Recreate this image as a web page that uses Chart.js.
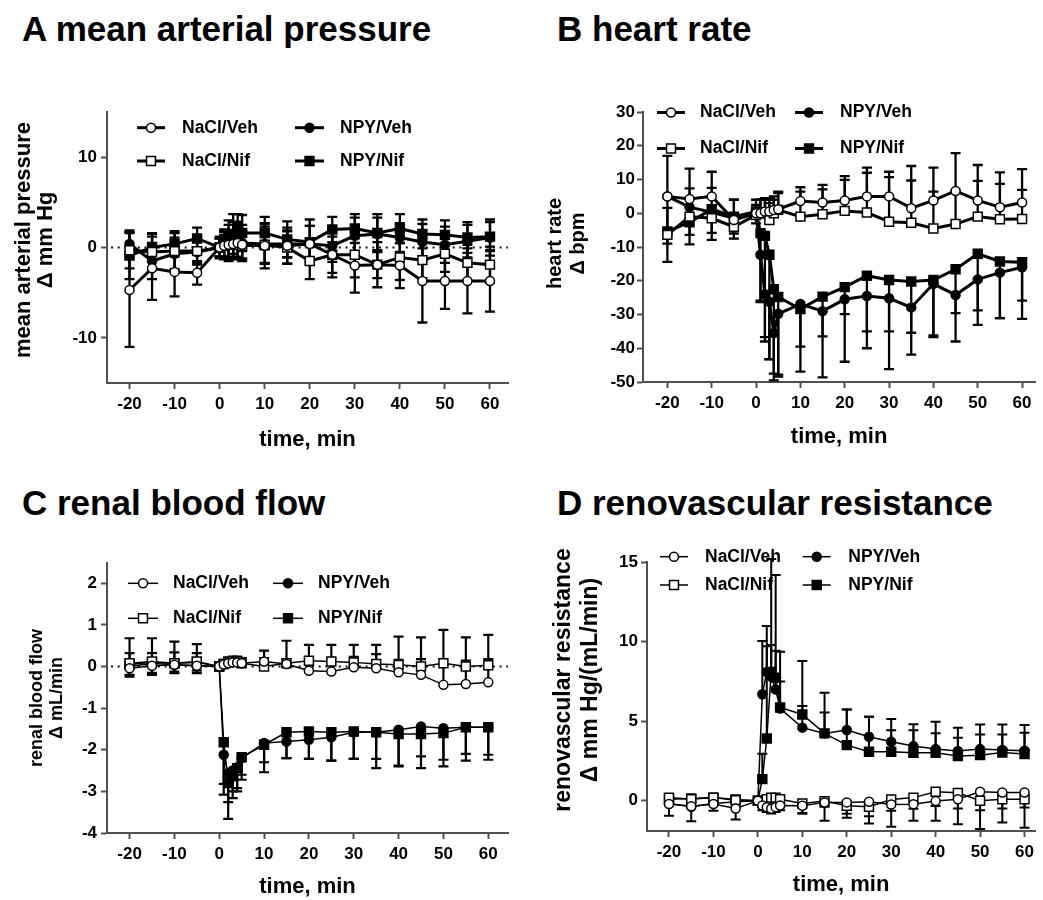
<!DOCTYPE html>
<html>
<head>
<meta charset="utf-8">
<script src="https://cdn.jsdelivr.net/npm/chart.js"></script>
<style>
  body { margin: 0; background: #fff; width: 1043px; height: 900px; position: relative; overflow: hidden; }
  .panel { position: absolute; }
  .title { position: absolute; font-family: "Liberation Sans", Arial, sans-serif; font-weight: bold;
           font-size: 35px; line-height: 35px; white-space: nowrap; color: #000; }
</style>
</head>
<body>
<div class="title" style="left:22px; top:11px;">A mean arterial pressure</div>
<div class="title" style="left:557px; top:11px;">B heart rate</div>
<div class="title" style="left:22px; top:485px;">C renal blood flow</div>
<div class="title" style="left:557px; top:485px;">D renovascular resistance</div>

<div class="panel" style="left:0; top:0;"><canvas id="chartA" width="521" height="460"></canvas></div>
<div class="panel" style="left:521px; top:0;"><canvas id="chartB" width="522" height="460"></canvas></div>
<div class="panel" style="left:0; top:460px;"><canvas id="chartC" width="521" height="440"></canvas></div>
<div class="panel" style="left:521px; top:460px;"><canvas id="chartD" width="522" height="440"></canvas></div>

<script>
// Shared time axis (min) and labels
const times = [-20, -15, -10, -5, 0, 1, 2, 3, 4, 5, 10, 15, 20, 25, 30, 35, 40, 45, 50, 55, 60];
const seriesNames = ['NaCl/Veh', 'NaCl/Nif', 'NPY/Veh', 'NPY/Nif'];
const xTickValues = [-20, -10, 0, 10, 20, 30, 40, 50, 60];

// A: mean arterial pressure (Δ mm Hg)
const mapNaclVeh = [-4.7, -2.3, -2.7, -2.8, 0, 0.2, 0.3, 0.4, 0.5, 0.3, 0.2, 0.2, 0.4, -0.8, -2.0, -1.9, -2.0, -3.7, -3.7, -3.7, -3.7];
const mapNaclVehErr = [6.3, 3.5, 2.7, 1.3, 1.2, 1.5, 1.5, 1.5, 1.5, 1.5, 2.5, 2.0, 2.0, 2.0, 3.0, 2.5, 2.5, 4.6, 3.1, 3.6, 3.4];
const mapNaclNif = [-0.3, -0.5, -0.4, -0.4, 0, 0.2, 0.3, 0.4, 0.3, 0.2, 0.3, 0, -1.5, -0.8, -0.8, -1.9, -1.1, -1.4, -0.7, -1.7, -1.9];
const mapNaclNifErr = [2.0, 2.0, 2.0, 1.5, 1.0, 1.2, 1.5, 1.5, 1.5, 1.5, 2.0, 1.8, 2.0, 2.5, 2.5, 1.5, 2.5, 2.0, 2.0, 2.0, 2.0];
const mapNpyVeh = [0.4, -1.5, -0.7, -0.5, 0, 0.3, 0.5, 0.8, 0.7, 0.5, 0.4, 0.4, 0.4, 0.2, 1.3, 1.5, 1.1, 0.6, 0.3, 0.7, 1.1];
const mapNpyVehErr = [1.5, 2.0, 1.8, 1.2, 1.0, 1.5, 2.0, 2.0, 2.0, 2.0, 2.2, 1.5, 2.0, 1.8, 2.0, 1.8, 1.6, 2.0, 2.0, 1.8, 2.0];
const mapNpyNif = [-0.9, 0, 0.4, 1.0, 0, 0.5, 1.0, 1.5, 2.4, 1.6, 1.6, 0.9, 0.6, 2.0, 2.1, 1.6, 2.1, 1.5, 1.4, 1.1, 1.2];
const mapNpyNifErr = [2.6, 1.6, 1.4, 1.2, 1.0, 1.5, 2.0, 2.2, 1.3, 2.0, 1.8, 2.0, 2.5, 1.4, 1.6, 2.1, 1.6, 1.6, 1.6, 1.7, 1.6];
const mapTicks = [-10, 0, 10];

// B: heart rate (Δ bpm)
const hrNaclVeh = [5, 4.2, 5, -2, 0, 0, 0.5, 0.5, 1, 1.2, 3.6, 3.2, 3.8, 5, 5, 1.5, 3.8, 6.6, 3.8, 1.8, 3.2];
const hrNaclVehErr = [12, 9, 7.3, 6, 4, 4, 4, 4, 4, 5.2, 4.1, 5.2, 7.2, 8.5, 7.3, 12.5, 9.7, 11.2, 10.5, 10.3, 9.9];
const hrNaclNif = [-6.4, -1, -1.5, -4, -0.5, 0, 0, -2, 0, 1, -1, -0.3, 0.7, 0.2, -2.5, -2.8, -4.5, -3.2, -1, -1.8, -1.7];
const hrNaclNifErr = [8, 8.4, 9, 8, 3, 4, 4, 5, 4, 5, 7.4, 7.4, 9.2, 11.8, 13.2, 12.5, 10.9, 10, 10.6, 10.5, 8.6];
const hrNpyVeh = [5, 1.8, 0.3, -1.5, 0, -12.3, -24, -26.2, -35.5, -29.8, -26.9, -29, -25.5, -24.5, -25.2, -27.9, -20.9, -24.2, -19.6, -17.6, -16];
const hrNpyVehErr = [14, 11, 8.2, 6, 3, 14, 14, 17, 14, 18.6, 20, 19.6, 18.5, 15.5, 21, 14, 15.8, 13.8, 13.5, 13.5, 15.3];
const hrNpyNif = [-5.4, -2.7, 1.2, -1, 0.5, -5.9, -6.7, -12.3, -22.5, -24.8, -28.4, -24.7, -21.9, -18.5, -19.8, -20.2, -19.8, -16.6, -12, -14.3, -14.5];
const hrNpyNifErr = [9, 3.7, 7, 5, 2, 20, 30, 31, 25, 23, 11.1, 11.8, 8, 16.5, 15.2, 15.2, 16.4, 13, 16.8, 16.8, 11.4];
const hrTicks = [-50, -40, -30, -20, -10, 0, 10, 20, 30];

// C: renal blood flow (Δ mL/min)
const rbfNaclVeh = [-0.04, 0.02, 0.04, 0.02, 0, 0.05, 0.08, 0.1, 0.1, 0.08, 0.12, 0.06, -0.1, -0.12, -0.02, -0.04, -0.14, -0.2, -0.44, -0.42, -0.38];
const rbfNaclVehErr = [0.36, 0.3, 0.3, 0.3, 0.1, 0.1, 0.1, 0.12, 0.12, 0.12, 0.26, 0.12, 0.3, 0.3, 0.25, 0.34, 0.3, 0.38, 0.5, 0.56, 0.56];
const rbfNaclNif = [0.08, 0.12, 0.08, 0.12, 0, 0.06, 0.1, 0.12, 0.12, 0.08, 0, 0.08, 0.14, 0.12, 0.1, 0.06, 0.04, 0, 0.08, 0, 0.03];
const rbfNaclNifErr = [0.6, 0.56, 0.52, 0.42, 0.1, 0.1, 0.12, 0.12, 0.12, 0.12, 0.2, 0.54, 0.38, 0.4, 0.42, 0.46, 0.68, 0.7, 0.8, 0.7, 0.73];
const rbfNpyVeh = [0, 0.08, 0.04, 0.02, 0, -2.12, -2.56, -2.5, -2.42, -2.2, -1.84, -1.8, -1.76, -1.7, -1.58, -1.58, -1.52, -1.44, -1.48, -1.46, -1.46];
const rbfNpyVehErr = [0.24, 0.28, 0.2, 0.18, 0.05, 0.96, 0.7, 0.5, 0.5, 0.4, 0.46, 0.4, 0.46, 0.56, 0.64, 0.86, 0.86, 1.0, 0.92, 0.8, 0.78];
const rbfNpyNif = [0.05, 0.1, 0.08, 0.1, 0, -1.82, -2.8, -2.64, -2.44, -2.18, -1.88, -1.58, -1.56, -1.58, -1.56, -1.58, -1.62, -1.62, -1.6, -1.46, -1.46];
const rbfNpyNifErr = [0.25, 0.25, 0.2, 0.2, 0.05, 1.0, 0.86, 0.52, 0.56, 0.54, 0.66, 0.62, 0.66, 0.68, 0.66, 0.64, 0.78, 0.54, 0.64, 0.64, 0.66];
const rbfTicks = [-4, -3, -2, -1, 0, 1, 2];

// D: renovascular resistance (Δ mm Hg/(mL/min))
const rvrNaclVeh = [-0.2, -0.35, -0.2, -0.48, 0, -0.3, -0.4, -0.5, -0.4, -0.3, -0.31, -0.1, -0.1, -0.06, -0.23, -0.21, -0.02, 0.1, 0.57, 0.52, 0.52];
const rvrNaclVehErr = [0.74, 0.93, 0.43, 0.69, 0.2, 0.3, 0.3, 0.3, 0.3, 0.3, 0.5, 1.16, 0.97, 1.37, 1.41, 1.05, 1.24, 1.57, 2.35, 1.88, 2.22];
const rvrNaclNif = [0.2, 0.1, 0.2, 0.04, 0, -0.1, 0.1, 0.2, 0.2, 0.1, -0.17, -0.02, -0.31, -0.38, 0.08, 0.2, 0.57, 0.5, 0, 0.1, 0.1];
const rvrNaclNifErr = [0.5, 0.5, 0.4, 0.4, 0.2, 0.3, 0.4, 0.5, 0.5, 0.5, 0.6, 0.36, 0.5, 0.6, 0.7, 0.7, 0.9, 0.98, 0.6, 0.58, 0.52];
const rvrNpyVeh = [-0.17, -0.38, -0.17, -0.06, 0, 6.7, 8.1, 7.8, 7.0, 5.8, 4.6, 4.24, 4.45, 4.03, 3.71, 3.44, 3.25, 3.13, 3.25, 3.19, 3.15];
const rvrNpyVehErr = [0.3, 0.3, 0.3, 0.3, 0.1, 3.35, 2.9, 7.4, 7.2, 1.7, 1.36, 1.32, 1.29, 1.25, 1.43, 1.38, 1.0, 0.83, 0.92, 0.98, 1.13];
const rvrNpyNif = [0.1, 0.15, 0.2, 0.08, 0, 1.36, 3.92, 8.1, 7.74, 5.87, 5.43, 4.24, 3.5, 3.08, 3.08, 3.02, 3.02, 2.81, 2.87, 3.04, 2.94];
const rvrNpyNifErr = [0.2, 0.2, 0.2, 0.2, 0.1, 1.6, 5.8, 1.7, 1.7, 3.5, 3.37, 2.56, 2.24, 2.2, 1.36, 1.42, 1.95, 1.79, 1.93, 1.76, 1.82];
const rvrTicks = [0, 5, 10, 15];

const FONT = '"Liberation Sans", Arial, sans-serif';
const AXIS = '#505050';

// error bars (drawn under the lines/markers) + dotted zero reference line
const errorBarPlugin = {
    id: 'errorBars',
    beforeDatasetsDraw(chart, args, o) {
        const ctx = chart.ctx;
        const ys = chart.scales.y;
        const area = chart.chartArea;
        ctx.save();
        if (o.zeroLine) {
            const y0 = ys.getPixelForValue(0);
            ctx.strokeStyle = '#111';
            ctx.lineWidth = 2;
            ctx.setLineDash([2, 4.7]);
            ctx.beginPath();
            ctx.moveTo(area.left + 4, y0);
            ctx.lineTo(area.right, y0);
            ctx.stroke();
            ctx.setLineDash([]);
        }
        ctx.strokeStyle = '#000';
        ctx.lineWidth = o.width;
        chart.data.datasets.forEach((ds, di) => {
            const meta = chart.getDatasetMeta(di);
            meta.data.forEach((pt, i) => {
                const v = ds.data[i].y;
                const e = ds.errors[i];
                const hi = ds.errDir === 'down' ? v : v + e;
                const lo = ds.errDir === 'up' ? v : v - e;
                const yHi = ys.getPixelForValue(hi);
                let yLo = ys.getPixelForValue(lo);
                const clipLo = yLo > area.bottom;
                if (clipLo) yLo = area.bottom;
                ctx.beginPath();
                ctx.moveTo(pt.x, yHi);
                ctx.lineTo(pt.x, yLo);
                if (ds.errDir !== 'down') {
                    ctx.moveTo(pt.x - o.cap, yHi);
                    ctx.lineTo(pt.x + o.cap, yHi);
                }
                if (ds.errDir !== 'up' && !clipLo) {
                    ctx.moveTo(pt.x - o.cap, yLo);
                    ctx.lineTo(pt.x + o.cap, yLo);
                }
                ctx.stroke();
            });
        });
        ctx.restore();
    }
};

// two-column legend drawn inside the plot area
const panelLegendPlugin = {
    id: 'panelLegend',
    afterDraw(chart, args, o) {
        const ctx = chart.ctx;
        chart.data.datasets.forEach((ds, i) => {
            const col = o.cols[Math.floor(i / 2)];
            const y = o.rows[i % 2];
            const cx = (col.x1 + col.x2) / 2;
            ctx.save();
            ctx.strokeStyle = '#000';
            ctx.lineWidth = o.lineWidth;
            ctx.beginPath();
            ctx.moveTo(col.x1, y);
            ctx.lineTo(col.x2, y);
            ctx.stroke();
            ctx.fillStyle = ds.pointBackgroundColor;
            ctx.lineWidth = ds.pointBorderWidth;
            ctx.beginPath();
            if (ds.pointStyle === 'rect') {
                const s = ds.pointRadius * Math.SQRT1_2;
                ctx.rect(cx - s, y - s, 2 * s, 2 * s);
            } else {
                ctx.arc(cx, y, ds.pointRadius, 0, Math.PI * 2);
            }
            ctx.fill();
            ctx.stroke();
            ctx.fillStyle = '#000';
            ctx.font = 'bold 17.5px ' + FONT;
            ctx.textBaseline = 'middle';
            ctx.textAlign = 'left';
            ctx.fillText(ds.label, col.tx, y);
            ctx.restore();
        });
    }
};

// rotated two-line y axis title
const yTitlePlugin = {
    id: 'yTitle',
    afterDraw(chart, args, o) {
        const ctx = chart.ctx;
        ctx.save();
        ctx.fillStyle = '#000';
        ctx.font = 'bold ' + o.size + 'px ' + FONT;
        ctx.textAlign = 'center';
        ctx.textBaseline = 'middle';
        o.lines.forEach((line, i) => {
            ctx.save();
            ctx.translate(o.xs[i], o.yc);
            ctx.rotate(-Math.PI / 2);
            ctx.fillText(line, 0, 0);
            ctx.restore();
        });
        ctx.restore();
    }
};

function makeDataset(i, values, errors, dir, lineWidth) {
    const open = i < 2;
    return {
        label: seriesNames[i],
        data: times.map((t, k) => ({ x: t, y: values[k] })),
        errors: errors,
        errDir: dir,
        borderColor: '#000',
        borderWidth: lineWidth,
        tension: 0,
        pointStyle: i % 2 === 0 ? 'circle' : 'rect',
        pointRadius: i % 2 === 0 ? 4.5 : 6.3,
        pointBackgroundColor: open ? '#fff' : '#000',
        pointBorderColor: '#000',
        pointBorderWidth: 1.5,
        clip: false
    };
}

function makePanel(id, p) {
    const ds = p.series.map((s, i) => makeDataset(i, s[0], s[1], p.dirs[i], p.lineWidth));
    return new Chart(document.getElementById(id), {
        type: 'line',
        data: { datasets: ds },
        plugins: [errorBarPlugin, panelLegendPlugin, yTitlePlugin],
        options: {
            responsive: false,
            animation: false,
            layout: { padding: { top: p.padTop, right: p.padRight, left: 0, bottom: 0 } },
            plugins: {
                legend: { display: false },
                tooltip: { enabled: false },
                errorBars: { width: p.errWidth, cap: 5, zeroLine: p.zeroLine },
                panelLegend: { rows: p.legendRows, cols: p.legendCols, lineWidth: p.lineWidth },
                yTitle: { lines: p.yTitle, size: p.yTitleSize, xs: p.yTitleXs, yc: p.yTitleY }
            },
            scales: {
                x: {
                    type: 'linear',
                    min: p.xMin,
                    max: p.xMax,
                    afterBuildTicks: s => { s.ticks = xTickValues.map(v => ({ value: v })); },
                    afterFit: s => { s.height = p.xHeight; },
                    border: { color: AXIS, width: 2 },
                    grid: { drawOnChartArea: false, drawTicks: true, tickLength: 6, tickWidth: 2, tickColor: AXIS },
                    ticks: { color: '#000', font: { family: FONT, size: 17, weight: 'bold' }, padding: 5, maxRotation: 0, autoSkip: false },
                    title: { display: true, text: 'time, min', color: '#000',
                             font: { family: FONT, size: 22, weight: 'bold' }, padding: { top: 0, bottom: p.xTitlePad } }
                },
                y: {
                    type: 'linear',
                    min: p.yMin,
                    max: p.yMax,
                    afterBuildTicks: s => { s.ticks = p.yTicks.map(v => ({ value: v })); },
                    afterFit: s => { s.width = p.yWidth; },
                    border: { color: AXIS, width: 2 },
                    grid: { drawOnChartArea: false, drawTicks: true, tickLength: 6, tickWidth: 2, tickColor: AXIS },
                    ticks: { color: '#000', font: { family: FONT, size: 17, weight: 'bold' }, padding: p.yTickPad, autoSkip: false },
                    title: { display: false }
                }
            }
        }
    });
}

makePanel('chartA', {
    series: [[mapNaclVeh, mapNaclVehErr], [mapNaclNif, mapNaclNifErr], [mapNpyVeh, mapNpyVehErr], [mapNpyNif, mapNpyNifErr]],
    dirs: ['both', 'both', 'both', 'both'],
    lineWidth: 3, errWidth: 2.3, zeroLine: true,
    padTop: 112, padRight: 13,
    xMin: -25, xMax: 64, xHeight: 77, xTitlePad: 6.8,
    yMin: -15, yMax: 15, yTicks: mapTicks, yWidth: 107, yTickPad: 4,
    yTitle: ['mean arterial pressure', 'Δ mm Hg'], yTitleSize: 22, yTitleXs: [24, 46], yTitleY: 240,
    legendRows: [127.7, 161],
    legendCols: [{ x1: 137, x2: 165, tx: 182 }, { x1: 295, x2: 324, tx: 340 }]
});

makePanel('chartB', {
    series: [[hrNaclVeh, hrNaclVehErr], [hrNaclNif, hrNaclNifErr], [hrNpyVeh, hrNpyVehErr], [hrNpyNif, hrNpyNifErr]],
    dirs: ['up', 'up', 'down', 'down'],
    lineWidth: 3, errWidth: 2.3, zeroLine: false,
    padTop: 112, padRight: 3,
    xMin: -25.5, xMax: 62.96, xHeight: 78, xTitlePad: 9.8,
    yMin: -50, yMax: 30, yTicks: hrTicks, yWidth: 122, yTickPad: 2,
    yTitle: ['heart rate', 'Δ bpm'], yTitleSize: 20, yTitleXs: [34, 57], yTitleY: 243.5,
    legendRows: [112.5, 148.5],
    legendCols: [{ x1: 136, x2: 164, tx: 179 }, { x1: 274, x2: 302, tx: 319 }]
});

makePanel('chartC', {
    series: [[rbfNaclVeh, rbfNaclVehErr], [rbfNaclNif, rbfNaclNifErr], [rbfNpyVeh, rbfNpyVehErr], [rbfNpyNif, rbfNpyNifErr]],
    dirs: ['up', 'up', 'down', 'down'],
    lineWidth: 1.5, errWidth: 2.2, zeroLine: true,
    padTop: 102.5, padRight: 13,
    xMin: -25.03, xMax: 64.4, xHeight: 67, xTitlePad: 0,
    yMin: -4, yMax: 2.5, yTicks: rbfTicks, yWidth: 107, yTickPad: 4,
    yTitle: ['renal blood flow', 'Δ mL/min'], yTitleSize: 18, yTitleXs: [37.5, 57.5], yTitleY: 238,
    legendRows: [123.3, 158.3],
    legendCols: [{ x1: 128, x2: 158, tx: 173 }, { x1: 273, x2: 303, tx: 318 }]
});

makePanel('chartD', {
    series: [[rvrNaclVeh, rvrNaclVehErr], [rvrNaclNif, rvrNaclNifErr], [rvrNpyVeh, rvrNpyVehErr], [rvrNpyNif, rvrNpyNifErr]],
    dirs: ['down', 'down', 'up', 'up'],
    lineWidth: 1.5, errWidth: 2, zeroLine: false,
    padTop: 102.3, padRight: 3,
    xMin: -24.95, xMax: 62.4, xHeight: 69, xTitlePad: 1.8,
    yMin: -1.9, yMax: 15, yTicks: rvrTicks, yWidth: 126, yTickPad: 3,
    yTitle: ['renovascular resistance', 'Δ mm Hg/(mL/min)'], yTitleSize: 23, yTitleXs: [43, 70], yTitleY: 220,
    legendRows: [96.7, 125],
    legendCols: [{ x1: 139, x2: 167, tx: 184 }, { x1: 281.7, x2: 309.7, tx: 327.3 }]
});
</script>
</body>
</html>
